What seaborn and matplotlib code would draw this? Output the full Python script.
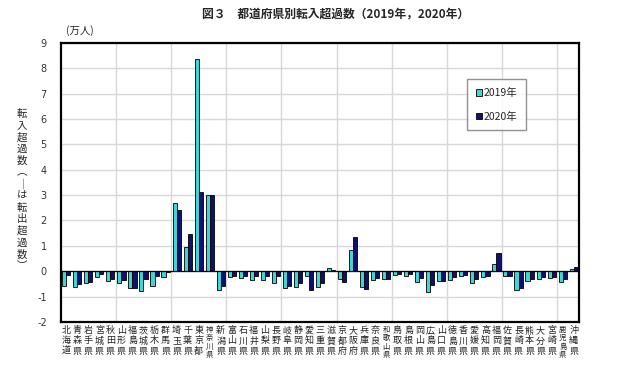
import pandas as pd
import matplotlib
matplotlib.use('Agg')
import matplotlib.pyplot as plt
import seaborn as sns

# 都道府県 (tick labels stacked vertically)
prefs = ['北海道', '青森県', '岩手県', '宮城県', '秋田県', '山形県', '福島県', '茨城県',
         '栃木県', '群馬県', '埼玉県', '千葉県', '東京都', '神奈川県', '新潟県', '富山県',
         '石川県', '福井県', '山梨県', '長野県', '岐阜県', '静岡県', '愛知県', '三重県',
         '滋賀県', '京都府', '大阪府', '兵庫県', '奈良県', '和歌山県', '鳥取県', '島根県',
         '岡山県', '広島県', '山口県', '徳島県', '香川県', '愛媛県', '高知県', '福岡県',
         '佐賀県', '長崎県', '熊本県', '大分県', '宮崎県', '鹿児島県', '沖縄県']

# 転入超過数 (万人)
v2019 = [-0.58, -0.62, -0.46, -0.22, -0.39, -0.45, -0.68, -0.78, -0.59, -0.25,
         2.70, 0.97, 8.37, 2.99, -0.75, -0.25, -0.28, -0.33, -0.33, -0.45,
         -0.68, -0.64, -0.20, -0.64, 0.13, -0.29, 0.82, -0.62, -0.36, -0.32,
         -0.16, -0.21, -0.42, -0.82, -0.38, -0.33, -0.18, -0.45, -0.25, 0.29,
         -0.18, -0.75, -0.38, -0.32, -0.26, -0.42, 0.07]
v2020 = [-0.16, -0.49, -0.43, -0.13, -0.32, -0.33, -0.68, -0.29, -0.20, -0.03,
         2.43, 1.46, 3.13, 2.99, -0.59, -0.18, -0.18, -0.21, -0.18, -0.18,
         -0.59, -0.46, -0.75, -0.45, 0.03, -0.42, 1.34, -0.70, -0.26, -0.32,
         -0.10, -0.13, -0.26, -0.55, -0.38, -0.22, -0.17, -0.32, -0.18, 0.70,
         -0.18, -0.68, -0.32, -0.25, -0.25, -0.32, 0.17]
years = ['2019年', '2020年']

df = pd.DataFrame({
    'pref': prefs * 2,
    'value': v2019 + v2020,
    'year': [years[0]] * len(prefs) + [years[1]] * len(prefs),
})

sns.set_style('white')
plt.rcParams['font.family'] = ['Noto Sans CJK JP', 'DejaVu Sans']

fig = plt.figure(figsize=(6.33, 3.8), dpi=100)
ax = fig.add_axes([0.096, 0.153, 0.819, 0.734])

sns.barplot(data=df, x='pref', y='value', hue='year', palette=['#22F0F0', '#000080'],
            edgecolor='black', linewidth=0.6, width=0.74, ax=ax)

ax.set_xlim(-0.5, len(prefs) - 0.5)
ax.set_ylim(-2, 9)
ax.set_yticks(range(-2, 10))
ax.set_yticklabels([str(i) for i in range(-2, 10)], fontsize=7, color='#333333',
                   family=['DejaVu Sans'])

# vertical grid every 5 prefectures
ax.set_xticks([i + 4.5 for i in range(0, 45, 5)], minor=True)
ax.set_axisbelow(True)
ax.yaxis.grid(True, color='#d8d8d8', lw=1)
ax.xaxis.grid(True, which='minor', color='#d8d8d8', lw=1)
ax.axhline(0, color='black', lw=0.9, zorder=3)

ax.set_xticks(range(len(prefs)))
labels = []
for p in prefs:
    labels.append('\n'.join(p))
ax.set_xticklabels(labels, fontsize=6.5, color='#222222', linespacing=1.2)
for tl in ax.get_xticklabels():
    if len(tl.get_text().split('\n')) == 4:
        tl.set_fontsize(5.3)
        tl.set_linespacing(1.05)
ax.tick_params(axis='both', which='both', length=0)
ax.tick_params(axis='x', pad=3)
ax.tick_params(axis='y', pad=10)
ax.set_xlabel('')
ax.set_ylabel('')

for s in ax.spines.values():
    s.set_color('black')
    s.set_linewidth(1.6)

handles, lbls = ax.get_legend_handles_labels()
ax.legend(handles, lbls, loc='upper left', bbox_to_anchor=(0.783, 0.871),
          fontsize=7.5, frameon=True, fancybox=False, edgecolor='#777777',
          handlelength=0.6, handleheight=0.6, handletextpad=0.2,
          labelspacing=1.3, borderpad=0.85, borderaxespad=0)
ax.get_legend().get_frame().set_linewidth(1.0)

fig.text(0.105, 0.905, '(万人)', fontsize=7.5, ha='left', va='bottom')
fig.text(0.53, 0.962, '図３　都道府県別転入超過数（2019年，2020年）', fontsize=8.5,
         ha='center', va='center', fontweight='bold')
ylab = '\n'.join('転入超過数︵｜は転出超過数︶')
fig.text(0.035, 0.5, ylab, fontsize=7.5, ha='center', va='center', linespacing=1.2)

fig.savefig('out.png', dpi=100)
